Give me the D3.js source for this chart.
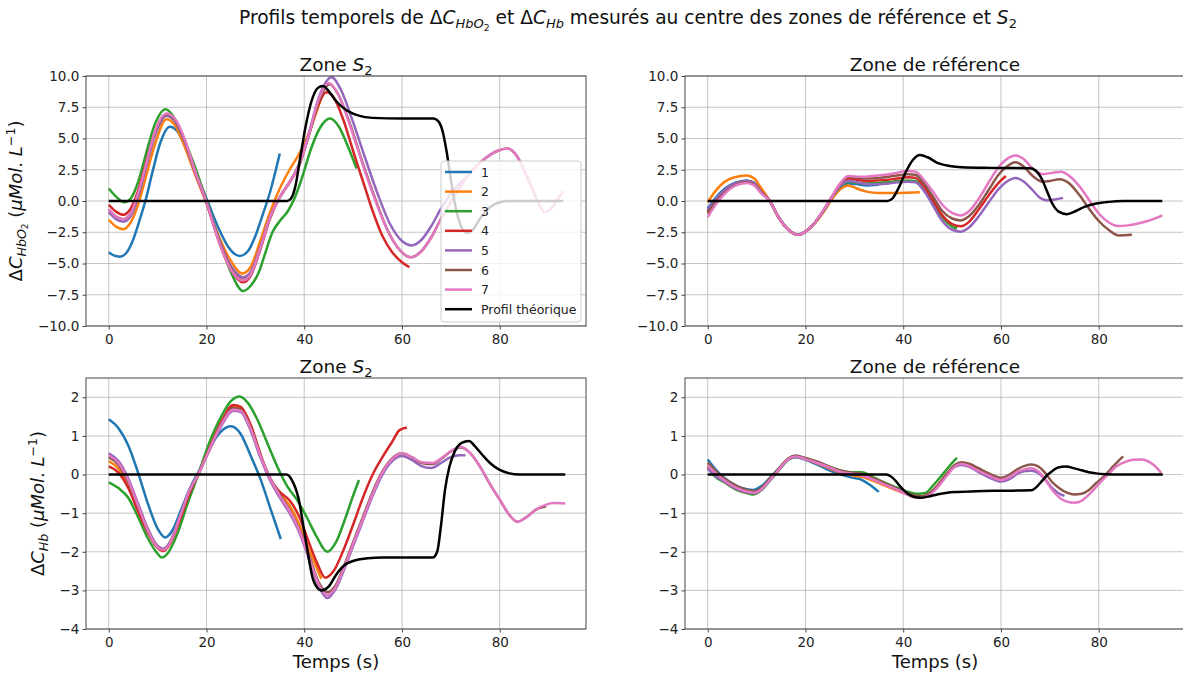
<!DOCTYPE html>
<html><head><meta charset="utf-8">
<script src="https://cdn.jsdelivr.net/npm/d3@7"></script>
<style>
html,body{margin:0;padding:0;background:#fff;}
svg{display:block;font-family:"DejaVu Sans",sans-serif;}
text{white-space:pre;}
</style></head>
<body><svg id="c" width="1183" height="673"></svg>
<script>
// ---------------- DATA ----------------
const tempsTicks = [0, 20, 40, 60, 80];
const hbo2Ticks = [-10, -7.5, -5, -2.5, 0, 2.5, 5, 7.5, 10];
const hbTicks = [-4, -3, -2, -1, 0, 1, 2];
const seriesNames = ["1", "2", "3", "4", "5", "6", "7", "Profil théorique"];
const panelTitles = ["Zone S2", "Zone de référence", "Zone S2", "Zone de référence"];

// ΔC_HbO2, zone S2 : series 1..7 then theoretical profile ([temps s, valeur])
const hbo2S2 = [
 [[0,-4.1],[1,-4.35],[2.3,-4.45],[3.5,-4.2],[5,-3.1],[6.5,-1.3],[7.5,0],[9,2.4],[10.5,4.6],[12.5,5.95],[14,5.6],[16,4.0],[18,2.1],[20.3,-0.1],[22.5,-2.2],[24.5,-3.7],[26.8,-4.4],[28.5,-4.0],[30,-2.8],[31.5,-1.1],[33,0.7],[35,3.8]],
 [[0,-1.5],[1.5,-2.05],[3,-2.25],[4.5,-1.7],[6,-0.3],[7.5,1.8],[9.5,4.6],[11.8,6.55],[13.5,6.1],[15.5,4.4],[17.5,2.3],[20,-0.2],[22.5,-2.8],[25,-4.8],[27.3,-5.8],[29,-5.3],[31,-3.2],[33,-0.9],[35,1.0],[37,2.5],[39,3.8],[41,5.5],[43.5,8.3]],
 [[0,1.0],[1.5,0.35],[3.2,-0.1],[4.5,0.2],[6,1.5],[7.5,3.6],[9.5,6.2],[11.6,7.35],[13,6.9],[15,5.3],[17.5,2.9],[20,0],[22.5,-3.0],[25,-5.7],[27.5,-7.2],[29,-6.8],[30.7,-5.7],[32,-4.2],[33.5,-2.5],[35,-1.6],[36.5,-0.9],[38,0.2],[39.5,1.8],[41.5,4.3],[43.3,5.9],[45.3,6.6],[47,6.0],[49,4.3],[50.7,2.6]],
 [[0,-0.3],[1.5,-0.85],[3,-1.1],[4.5,-0.6],[6,0.8],[7.5,2.9],[9.5,5.5],[11.8,6.9],[13.5,6.5],[15.5,4.8],[17.5,2.5],[20,-0.1],[22.5,-3.2],[25,-5.5],[27.5,-6.5],[29,-6.0],[31,-3.9],[33,-1.4],[35,0.3],[37,1.5],[39,2.9],[41,5.4],[43,7.8],[44.5,8.7],[46,8.3],[48,6.5],[50,4.0],[52,1.6],[54,-0.8],[56,-2.8],[58,-4.1],[60,-4.9],[61.5,-5.3]],
 [[0,-0.9],[1.5,-1.45],[3,-1.65],[4.5,-1.2],[6,0.3],[7.5,2.5],[9.5,5.3],[11.8,6.8],[13.5,6.4],[15.5,4.8],[17.5,2.5],[20,-0.1],[22.5,-3.0],[25,-5.2],[27.5,-6.1],[29,-5.7],[31,-3.7],[33,-1.3],[35,0.3],[37,1.5],[39,3.0],[41,5.5],[43,8.3],[45.6,9.9],[47.5,8.9],[50,6.3],[52.5,3.4],[55,0.6],[57.5,-1.8],[60,-3.2],[62,-3.55],[64,-3.1],[66,-2.0],[68,-0.6],[70,0.6],[71.5,1.3],[73,1.8]],
 [[0,-0.7],[1.5,-1.25],[3,-1.45],[4.5,-1.0],[6,0.5],[7.5,2.7],[9.5,5.5],[11.8,6.95],[13.5,6.5],[15.5,4.9],[17.5,2.6],[20,-0.1],[22.5,-3.1],[25,-5.4],[27.5,-6.3],[29,-5.9],[31,-3.8],[33,-1.3],[35,0.3],[37,1.5],[39,2.9],[41,5.3],[43,8.0],[45.2,9.35],[47,8.5],[49.5,6.0],[52,3.0],[54.5,0.2],[57,-2.3],[59.5,-3.9],[61.8,-4.5],[64,-4.0],[66,-2.9],[68,-1.4],[70,-0.1],[72,1.2],[74.5,2.5],[77,3.4],[79.5,4.0],[81.5,4.2],[83.5,3.6],[85.5,2.0],[87.5,0.2]],
 [[0,-0.65],[1.5,-1.25],[3,-1.45],[4.5,-1.0],[6,0.6],[7.5,2.7],[9.5,5.6],[11.8,7.0],[13.5,6.6],[15.5,5.0],[17.5,2.6],[20,-0.1],[22.5,-3.2],[25,-5.5],[27.5,-6.35],[29,-5.9],[31,-3.8],[33,-1.3],[35,0.3],[37,1.5],[39,2.9],[41,5.4],[43,8.2],[45,9.45],[47,8.5],[49.5,5.9],[52,2.9],[54.5,0.1],[57,-2.3],[59.5,-3.9],[61.8,-4.5],[64,-4.0],[66,-2.9],[68,-1.4],[70,-0.1],[72,1.2],[74.5,2.5],[77,3.4],[79.5,4.0],[81.5,4.2],[83.5,3.6],[85.5,2.0],[87.5,0.2],[89.2,-0.9],[90.5,-0.6],[92,0.2],[93,0.8]],
 [[0,0],[36.5,0],[37.3,0.2],[38.2,1.2],[39.2,3.5],[40.3,6.0],[41.5,8.0],[42.8,9.05],[43.8,9.2],[45,8.8],[46.5,8.0],[48.5,7.3],[51,6.85],[54,6.65],[60,6.6],[66.5,6.6],[67.5,6.35],[68.3,5.6],[69.2,3.8],[70.2,1.2],[71.2,-0.9],[72.3,-2.2],[73.3,-2.55],[74.5,-2.3],[76,-1.4],[78,-0.5],[80,-0.1],[82,0],[93,0]]
];

// ΔC_HbO2, zone de référence
const hbo2Ref = [
 [[0,-0.6],[1.5,0.2],[3.5,1.0],[5.5,1.45],[8,1.65],[9.5,1.45],[11,0.75],[12.7,0],[14.5,-1.3],[16.5,-2.3],[18.5,-2.7],[20,-2.45],[22,-1.7],[24,-0.6],[25.5,0.3],[27,1.0],[28.8,1.4],[30.5,1.35],[32.5,1.25],[35,1.3]],
 [[0,-0.1],[1.5,0.75],[3.5,1.55],[5.5,1.9],[8,2.05],[9.5,1.8],[11,1.0],[12.7,0],[14.5,-1.3],[16.5,-2.3],[18.5,-2.7],[20,-2.45],[22,-1.75],[24,-0.7],[25.5,0.2],[27,0.9],[28.8,1.25],[30.5,1.0],[32.5,0.75],[35,0.65],[39,0.65],[43.4,0.7]],
 [[0,-0.8],[1.5,0.05],[3.5,0.85],[5.5,1.35],[8,1.6],[9.5,1.4],[11,0.7],[12.7,0],[14.5,-1.3],[16.5,-2.3],[18.5,-2.7],[20,-2.45],[22,-1.7],[24,-0.6],[25.5,0.35],[27,1.1],[28.8,1.55],[30.5,1.45],[32.5,1.4],[35,1.45],[38,1.55],[41,1.65],[42.5,1.6],[44,1.1],[46,-0.1],[48,-1.3],[50,-2.05],[51,-2.2]],
 [[0,-0.85],[1.5,0.0],[3.5,0.8],[5.5,1.35],[8,1.6],[9.5,1.4],[11,0.7],[12.7,0],[14.5,-1.3],[16.5,-2.3],[18.5,-2.7],[20,-2.45],[22,-1.7],[24,-0.55],[25.5,0.4],[27,1.25],[28.8,1.8],[30.5,1.7],[32.5,1.6],[35,1.65],[38,1.75],[41,1.9],[42.5,1.85],[44,1.3],[46,0.1],[48,-1.15],[50,-1.85],[51.8,-2.02],[53.5,-1.65],[55.5,-0.65],[57.5,0.45],[59.5,1.45],[61,2.0]],
 [[0,-0.7],[1.5,0.1],[3.5,0.9],[5.5,1.4],[8,1.6],[9.5,1.4],[11,0.7],[12.7,0],[14.5,-1.3],[16.5,-2.3],[18.5,-2.7],[20,-2.45],[22,-1.7],[24,-0.6],[25.5,0.35],[27,1.15],[28.8,1.6],[30.5,1.5],[32.5,1.35],[35,1.35],[38,1.45],[41,1.55],[42.5,1.5],[44,0.95],[46,-0.3],[48,-1.6],[50,-2.3],[51.8,-2.45],[53.5,-2.1],[55.5,-1.2],[57.5,-0.1],[59.5,0.95],[61,1.5],[63,1.85],[64.5,1.6],[66.5,0.85],[68,0.25],[69.5,0.05],[71,0.12],[72.7,0.25]],
 [[0,-1.0],[1.5,-0.15],[3.5,0.7],[5.5,1.25],[8,1.5],[9.5,1.3],[11,0.65],[12.7,0],[14.5,-1.3],[16.5,-2.3],[18.5,-2.7],[20,-2.45],[22,-1.7],[24,-0.55],[25.5,0.4],[27,1.3],[28.8,1.95],[30.5,1.85],[32.5,1.8],[35,1.85],[38,2.0],[41,2.15],[42.5,2.1],[44,1.55],[46,0.4],[48,-0.8],[50,-1.4],[51.8,-1.55],[53.5,-1.2],[55.5,-0.3],[57.5,0.9],[59.5,2.1],[61,2.7],[63,3.1],[64.5,2.8],[66.5,2.0],[68.5,1.55],[70,1.6],[72,1.75],[74,1.4],[76,0.5],[78,-0.6],[80,-1.6],[82,-2.3],[84,-2.75],[86.8,-2.7]],
 [[0,-1.3],[1.5,-0.35],[3.5,0.6],[5.5,1.2],[8,1.45],[9.5,1.25],[11,0.6],[12.7,0],[14.5,-1.3],[16.5,-2.3],[18.5,-2.7],[20,-2.45],[22,-1.7],[24,-0.55],[25.5,0.4],[27,1.35],[28.8,2.0],[30.5,1.95],[32.5,1.95],[35,2.05],[38,2.2],[41,2.4],[42.5,2.35],[44,1.8],[46,0.8],[48,-0.3],[50,-0.95],[51.8,-1.15],[53.5,-0.8],[55.5,0.2],[57.5,1.5],[59.5,2.7],[61,3.3],[63,3.65],[64.5,3.4],[66.5,2.6],[68.5,2.15],[70.5,2.25],[72.3,2.35],[74,2.0],[76,1.2],[78,0.1],[80,-1.0],[82,-1.7],[84,-2.0],[86,-1.95],[88,-1.8],[90,-1.6],[93,-1.15]],
 [[0,0],[36.8,0],[37.8,0.2],[39,1.0],[40.5,2.3],[42,3.3],[43.4,3.68],[45,3.5],[47,3.05],[49.5,2.8],[52,2.7],[58,2.65],[66,2.62],[67.2,2.4],[68.3,1.8],[69.4,0.8],[70.5,-0.2],[71.8,-0.85],[73.5,-1.05],[75.3,-0.8],[77.2,-0.45],[79.5,-0.2],[82,-0.07],[85,0],[93,0]]
];

// ΔC_Hb, zone S2
const hbS2 = [
 [[0,1.43],[2,1.2],[4,0.75],[6,0.05],[8,-0.75],[10,-1.4],[11.6,-1.63],[13,-1.45],[15,-0.85],[17,-0.25],[18.3,0.05],[20.5,0.65],[23,1.12],[25,1.25],[27,1.05],[29,0.5],[31,-0.1],[33,-0.85],[35.2,-1.67]],
 [[0,0.35],[2,0.15],[4,-0.25],[6,-0.85],[8,-1.45],[10,-1.85],[11.2,-1.95],[12.5,-1.8],[14.5,-1.15],[16.5,-0.45],[18.3,0],[20.5,0.65],[23,1.35],[25.5,1.78],[27,1.72],[29,1.25],[31,0.5],[33,-0.1],[35,-0.5],[37,-0.8],[39,-1.3],[41,-1.95],[43.5,-2.7]],
 [[0,-0.2],[2,-0.35],[4,-0.6],[6,-1.1],[8,-1.65],[10,-2.05],[10.8,-2.15],[12,-2.05],[14,-1.55],[16,-0.8],[18.3,0],[20.5,0.8],[23,1.5],[25,1.9],[26.8,2.02],[28.5,1.85],[30.5,1.4],[32.5,0.8],[34.5,0.2],[36.5,-0.3],[38.5,-0.65],[40.5,-1.1],[42.5,-1.6],[44.7,-2.0],[46.5,-1.75],[48.5,-1.1],[50,-0.55],[51.2,-0.14]],
 [[0,0.21],[2,0.05],[4,-0.35],[6,-0.95],[8,-1.5],[10,-1.9],[11.2,-1.98],[12.5,-1.8],[14.5,-1.2],[16.5,-0.5],[18.3,0],[20.5,0.65],[23,1.35],[25.5,1.8],[27,1.75],[29,1.3],[31,0.55],[32.5,0],[35,-0.45],[37.2,-0.7],[39,-1.1],[40.5,-1.6],[42.5,-2.25],[44.3,-2.67],[46,-2.5],[48.2,-1.9],[50,-1.3],[52,-0.6],[54,0],[56,0.45],[58,0.85],[59.5,1.15],[61,1.22]],
 [[0,0.55],[2,0.35],[4,-0.1],[6,-0.75],[8,-1.4],[10,-1.85],[11.2,-1.92],[12.5,-1.75],[14.5,-1.1],[16.5,-0.4],[18.3,0],[20.5,0.6],[23,1.25],[25.5,1.65],[27,1.62],[29,1.15],[31,0.45],[33,-0.15],[35,-0.6],[37,-1.0],[39,-1.5],[41,-2.2],[43,-2.9],[44.7,-3.2],[46.5,-2.95],[48.2,-2.45],[50,-1.85],[52,-1.2],[54,-0.55],[56,0],[58,0.35],[60,0.48],[62,0.38],[64,0.22],[66,0.17],[68,0.3],[70,0.45],[71.8,0.5],[73,0.5]],
 [[0,0.45],[2,0.25],[4,-0.2],[6,-0.82],[8,-1.45],[10,-1.88],[11.2,-1.94],[12.5,-1.77],[14.5,-1.12],[16.5,-0.42],[18.3,0],[20.5,0.62],[23,1.3],[25.5,1.72],[27,1.68],[29,1.22],[31,0.52],[33,-0.08],[35,-0.52],[37,-0.92],[39,-1.42],[41,-2.1],[43,-2.8],[44.7,-3.05],[46.5,-2.85],[48.2,-2.35],[50,-1.75],[52,-1.1],[54,-0.45],[56,0.08],[58,0.42],[60,0.55],[62,0.45],[64,0.3],[66.3,0.27],[68,0.4],[70,0.6],[72,0.7],[74,0.55],[76,0.2],[78,-0.25],[80,-0.65],[82,-1.05],[83.6,-1.22],[85.5,-1.1],[87.5,-0.9],[89.5,-0.82]],
 [[0,0.5],[2,0.3],[4,-0.15],[6,-0.8],[8,-1.45],[10,-1.88],[11.2,-1.95],[12.5,-1.78],[14.5,-1.12],[16.5,-0.42],[18.3,0],[20.5,0.62],[23,1.28],[25.5,1.68],[27,1.65],[29,1.2],[31,0.5],[33,-0.1],[35,-0.55],[37,-0.95],[39,-1.45],[41,-2.15],[43,-2.85],[44.7,-3.12],[46.5,-2.9],[48.2,-2.4],[50,-1.8],[52,-1.15],[54,-0.5],[56,0.05],[58,0.4],[60,0.55],[62,0.45],[64,0.32],[66.3,0.3],[68,0.42],[70,0.6],[72,0.72],[74,0.55],[76,0.2],[78,-0.25],[80,-0.65],[82,-1.05],[83.6,-1.22],[85.5,-1.1],[87.5,-0.9],[89.5,-0.78],[91,-0.74],[93.4,-0.75]],
 [[0,0],[36.4,0],[37.5,-0.15],[38.8,-0.6],[40.3,-1.7],[41.9,-2.75],[43.5,-3.0],[45,-2.9],[46.5,-2.6],[48.2,-2.35],[50.5,-2.22],[53,-2.17],[56,-2.15],[66.3,-2.15],[67.2,-2.0],[68,-1.3],[68.8,-0.4],[69.7,0.2],[70.8,0.6],[72.2,0.82],[73.7,0.87],[75,0.72],[76.5,0.5],[78,0.3],[80,0.12],[82,0.03],[84,0],[93.4,0]]
];

// ΔC_Hb, zone de référence
const hbRef = [
 [[0,0.39],[1.5,0.15],[3.4,-0.09],[6,-0.3],[8,-0.38],[9.2,-0.4],[11,-0.3],[13,-0.05],[15,0.22],[16.5,0.4],[18.1,0.45],[20,0.38],[22.5,0.25],[25,0.1],[27.3,0],[29.5,-0.08],[31.4,-0.13],[33,-0.25],[35,-0.45]],
 [[0,0.3],[1.5,0.1],[3.4,-0.12],[6,-0.33],[8,-0.42],[9.5,-0.45],[11,-0.36],[13,-0.08],[15,0.2],[16.5,0.4],[18.1,0.47],[20,0.4],[22.5,0.28],[25,0.15],[27.3,0.04],[29.5,-0.02],[31.5,-0.06],[34,-0.17],[36.5,-0.3],[38.5,-0.4],[40.5,-0.5],[43,-0.57]],
 [[0,0.17],[1.5,-0.05],[3.4,-0.2],[6,-0.4],[8,-0.48],[9.2,-0.52],[11,-0.4],[13,-0.12],[15,0.18],[16.5,0.38],[18.1,0.46],[20,0.42],[22.5,0.32],[25,0.2],[27.3,0.1],[29.5,0.06],[31.5,0.06],[34,-0.08],[36,-0.2],[38.5,-0.33],[40.5,-0.43],[43,-0.5],[44.5,-0.48],[46,-0.3],[47.5,-0.08],[49,0.15],[50,0.3],[51,0.43]],
 [[0,0.2],[1.5,0.0],[3.4,-0.18],[6,-0.38],[8,-0.46],[9.5,-0.48],[11,-0.38],[13,-0.1],[15,0.2],[16.5,0.4],[18.1,0.47],[20,0.41],[22.5,0.3],[25,0.18],[27.3,0.07],[29.5,0.03],[31.5,0],[34,-0.12],[36.2,-0.24],[38.5,-0.37],[40.5,-0.48],[42,-0.56],[43.7,-0.58],[45.5,-0.48],[47.1,-0.27],[49,0.03],[50.5,0.22],[52,0.28],[53.5,0.22],[55.3,0.1],[57.5,-0.02],[59.5,-0.12],[61,-0.12]],
 [[0,0.15],[1.5,-0.03],[3.4,-0.18],[6,-0.38],[8,-0.46],[9.5,-0.48],[11,-0.38],[13,-0.1],[15,0.2],[16.5,0.4],[18.1,0.46],[20,0.4],[22.5,0.29],[25,0.17],[27.3,0.06],[29.5,0.02],[31.5,-0.02],[34,-0.13],[36.2,-0.25],[38.5,-0.38],[40.5,-0.49],[42,-0.57],[43.7,-0.6],[45.5,-0.5],[47.1,-0.3],[49,0],[50.5,0.2],[52,0.25],[53.5,0.2],[55.3,0.07],[57.5,-0.07],[60,-0.18],[62,-0.1],[63.5,0.03],[65,0.09],[66.2,0.1],[67.5,0.05],[69,-0.12],[70.5,-0.35],[72,-0.5],[73,-0.55]],
 [[0,0.3],[1.5,0.1],[3.4,-0.1],[6,-0.3],[8,-0.4],[9.5,-0.43],[11,-0.34],[13,-0.06],[15,0.22],[16.5,0.42],[18.1,0.49],[20,0.43],[22.5,0.33],[25,0.2],[27.3,0.1],[29.5,0.05],[31.5,0.02],[34,-0.1],[36.2,-0.22],[38.5,-0.35],[40.5,-0.46],[42,-0.53],[43.7,-0.56],[45.5,-0.48],[47.1,-0.28],[49,0.02],[50.5,0.25],[52,0.32],[53.5,0.28],[55.3,0.17],[57.5,0.03],[60,-0.08],[62,0.02],[63.5,0.15],[65,0.23],[66.2,0.26],[67.5,0.22],[69,0.05],[70.5,-0.2],[72,-0.36],[73.5,-0.47],[75,-0.52],[76.5,-0.5],[78,-0.4],[79.5,-0.22],[81.2,-0.03],[82.5,0.15],[84,0.35],[85,0.47]],
 [[0,0.24],[1.5,0.05],[3.4,-0.15],[6,-0.35],[8,-0.44],[9.5,-0.47],[11,-0.38],[13,-0.1],[15,0.2],[16.5,0.4],[18.1,0.47],[20,0.4],[22.5,0.3],[25,0.18],[27.3,0.07],[29.5,0.02],[31.5,-0.02],[34,-0.14],[36.2,-0.26],[38.5,-0.38],[40.5,-0.5],[42,-0.58],[43.7,-0.6],[45.5,-0.52],[47.1,-0.32],[49,-0.02],[50.5,0.2],[52,0.27],[53.5,0.22],[55.3,0.1],[57.5,-0.03],[60,-0.14],[62,-0.05],[63.5,0.08],[65,0.14],[66.2,0.16],[67.5,0.1],[69,-0.12],[70.5,-0.4],[72,-0.6],[73.5,-0.7],[75,-0.73],[76.5,-0.68],[78.4,-0.47],[80.2,-0.22],[81.9,0],[83.5,0.2],[85.3,0.32],[87,0.38],[88.7,0.39],[90.3,0.33],[91.5,0.22],[92.8,0.04]],
 [[0,0],[36.5,0],[37.8,-0.08],[39.6,-0.34],[41,-0.5],[42.3,-0.58],[43.7,-0.6],[45.5,-0.56],[47.1,-0.51],[49,-0.47],[51.2,-0.45],[55,-0.43],[60,-0.42],[66.2,-0.41],[67.3,-0.32],[68.5,-0.15],[69.6,0],[70.6,0.1],[71.6,0.18],[73.3,0.21],[75,0.16],[76.5,0.11],[78,0.06],[79.5,0.03],[81.5,0.01],[84,0],[93.1,0]]
];

// ---------------- STYLE / LAYOUT ----------------
const colors = ["#1f77b4","#ff7f0e","#2ca02c","#d62728","#9467bd","#8c564b","#e377c2","#000000"];
const svg = d3.select("#c");
svg.append("rect").attr("width",1183).attr("height",673).attr("fill","#fff");
const W = 500;
const xDomain = [-4.65, 97.65];
const TICKFS = 13.5, TITLEFS = 18.5, LABFS = 18;

function rich(sel, segs, fs) {
  let cur = 0;
  segs.forEach(s => {
    const shift = (s.sh || 0) * fs;
    const ts = sel.append("tspan").text(s.t).attr("font-size", fs * (s.sc || 1)).attr("dy", shift - cur);
    if (s.i) ts.attr("font-style", "italic");
    cur = shift;
  });
}
const titleSegs = t => t === "Zone S2"
  ? [{t:"Zone "},{t:"S",i:1},{t:"2",sc:0.7,sh:0.25}]
  : [{t:t}];

const panels = [
  {x0:86,  y0:76,  h:250, dom:[-10,10],  ticks:hbo2Ticks, fmt:d3.format(".1f"), data:hbo2S2,  title:panelTitles[0], ylab:"hbo2", legend:true},
  {x0:685, y0:76,  h:250, dom:[-10,10],  ticks:hbo2Ticks, fmt:d3.format(".1f"), data:hbo2Ref, title:panelTitles[1]},
  {x0:86,  y0:378, h:251, dom:[-4,2.5],  ticks:hbTicks,   fmt:d3.format("d"),   data:hbS2,    title:panelTitles[2], ylab:"hb", xlab:true},
  {x0:685, y0:378, h:251, dom:[-4,2.5],  ticks:hbTicks,   fmt:d3.format("d"),   data:hbRef,   title:panelTitles[3], xlab:true}
];

panels.forEach((p, pi) => {
  const x = d3.scaleLinear().domain(xDomain).range([0, W]);
  const y = d3.scaleLinear().domain(p.dom).range([p.h, 0]);
  const g = svg.append("g").attr("transform", `translate(${p.x0},${p.y0})`);
  // grid
  g.append("g").selectAll("line").data(tempsTicks).join("line")
    .attr("x1", d => x(d)).attr("x2", d => x(d)).attr("y1", 0).attr("y2", p.h)
    .attr("stroke", "#b0b0b0").attr("stroke-width", 0.9).attr("opacity", 0.8);
  g.append("g").selectAll("line").data(p.ticks).join("line")
    .attr("y1", d => y(d)).attr("y2", d => y(d)).attr("x1", 0).attr("x2", W)
    .attr("stroke", "#b0b0b0").attr("stroke-width", 0.9).attr("opacity", 0.8);
  // lines
  const cid = "clip" + pi;
  g.append("clipPath").attr("id", cid).append("rect").attr("width", W).attr("height", p.h);
  const line = d3.line().x(d => x(d[0])).y(d => y(d[1])).curve(d3.curveMonotoneX);
  g.append("g").attr("clip-path", `url(#${cid})`).selectAll("path").data(p.data).join("path")
    .attr("d", line).attr("fill", "none").attr("stroke", (d, i) => colors[i])
    .attr("stroke-width", 2.5).attr("stroke-linejoin", "round").attr("stroke-linecap", "butt");
  // axes
  const ax = g.append("g").attr("transform", `translate(0,${p.h})`)
    .call(d3.axisBottom(x).tickValues(tempsTicks).tickSize(3.5).tickSizeOuter(0).tickPadding(5.2));
  const ay = g.append("g").call(d3.axisLeft(y).tickValues(p.ticks).tickFormat(p.fmt).tickSize(3.5).tickSizeOuter(0).tickPadding(3.2));
  [ax, ay].forEach(a => {
    a.select(".domain").remove();
    a.selectAll("line").attr("stroke", "#444");
    a.selectAll("text").attr("font-size", TICKFS).attr("font-family", "DejaVu Sans").attr("fill", "#222");
  });
  // frame
  g.append("rect").attr("width", W).attr("height", p.h).attr("fill", "none").attr("stroke", "#444").attr("stroke-width", 1);
  // title
  const tt = g.append("text").attr("x", W / 2).attr("y", -5.5).attr("text-anchor", "middle").attr("fill", "#111");
  rich(tt, titleSegs(p.title), TITLEFS);
  if (p.xlab) {
    g.append("text").attr("x", W / 2).attr("y", p.h + 38.5).attr("text-anchor", "middle")
      .attr("font-size", LABFS).attr("fill", "#111").text("Temps (s)");
  }
  if (p.ylab) {
    const lx = p.ylab === "hbo2" ? -64 : -42;
    const yt = g.append("text").attr("transform", `translate(${lx},${p.h / 2}) rotate(-90)`)
      .attr("text-anchor", "middle").attr("fill", "#111");
    const sub = p.ylab === "hbo2"
      ? [{t:"HbO",i:1,sc:0.7,sh:0.22},{t:"2",sc:0.5,sh:0.36}]
      : [{t:"Hb",i:1,sc:0.7,sh:0.22}];
    rich(yt, [{t:"Δ"},{t:"C",i:1}].concat(sub).concat([
      {t:" ("},{t:"μMol",i:1},{t:". "},{t:"L",i:1},{t:"−1",sc:0.7,sh:-0.4},{t:")"}]), LABFS);
  }
  if (p.legend) {
    const lg = g.append("g").attr("transform", `translate(${441 - p.x0},${161 - p.y0})`);
    lg.append("rect").attr("width", 140).attr("height", 161).attr("rx", 3)
      .attr("fill", "#fff").attr("fill-opacity", 0.8).attr("stroke", "#ccc").attr("stroke-width", 1);
    seriesNames.forEach((n, i) => {
      const cy = 11 + i * 19.6;
      lg.append("line").attr("x1", 4).attr("x2", 31).attr("y1", cy).attr("y2", cy)
        .attr("stroke", colors[i]).attr("stroke-width", 2.5);
      lg.append("text").attr("x", 40).attr("y", cy).attr("dy", "0.36em")
        .attr("font-size", 12.5).attr("fill", "#222").text(n);
    });
  }
});

// suptitle
const st = svg.append("text").attr("x", 628).attr("y", 24).attr("text-anchor", "middle").attr("fill", "#111");
rich(st, [
  {t:"Profils temporels de "},{t:"Δ"},{t:"C",i:1},{t:"HbO",i:1,sc:0.7,sh:0.22},{t:"2",sc:0.5,sh:0.36},
  {t:" et "},{t:"Δ"},{t:"C",i:1},{t:"Hb",i:1,sc:0.7,sh:0.22},
  {t:" mesurés au centre des zones de référence et "},{t:"S",i:1},{t:"2",sc:0.7,sh:0.22}
], 18.6);
</script></body></html>
